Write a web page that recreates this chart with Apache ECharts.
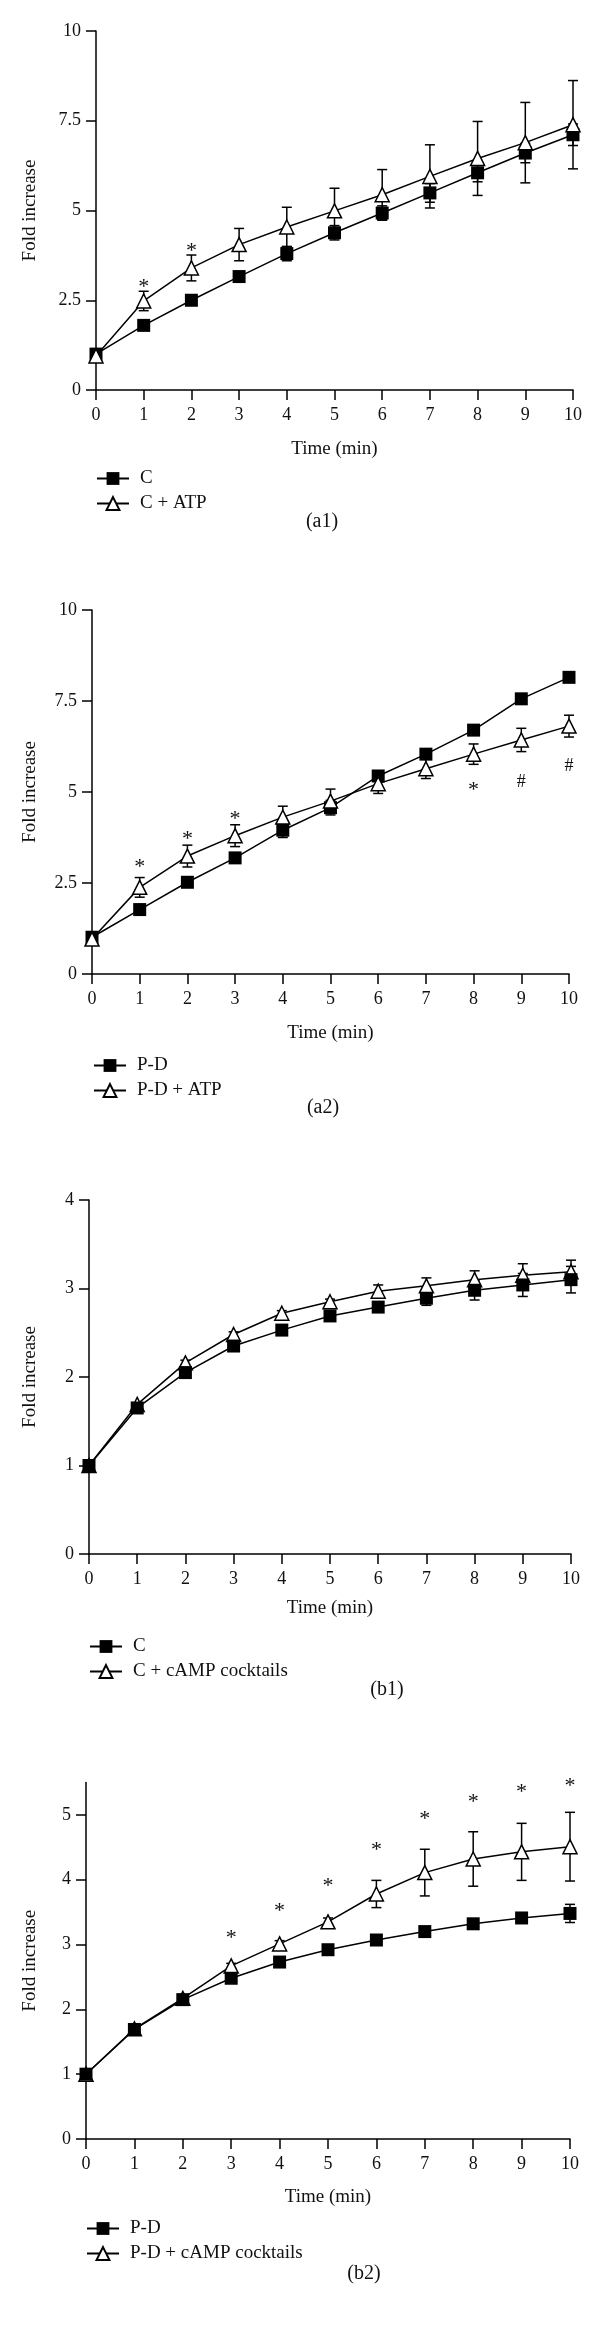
<!DOCTYPE html>
<html>
<head>
<meta charset="utf-8">
<script src="https://cdn.jsdelivr.net/npm/echarts@6/dist/echarts.min.js"></script>
<style>
  html, body { margin: 0; padding: 0; background: #fff; }
  #chart { width: 600px; height: 2333px; }
</style>
</head>
<body>
<div id="chart"></div>
<script>
// ---------- data ----------
const minutes = [0, 1, 2, 3, 4, 5, 6, 7, 8, 9, 10];
const xTicks = [0, 1, 2, 3, 4, 5, 6, 7, 8, 9, 10];
const yTicksA = [0, 2.5, 5, 7.5, 10];
const yTicksB1 = [0, 1, 2, 3, 4];
const yTicksB2 = [0, 1, 2, 3, 4, 5];

// (a1)
const a1C      = [1.0, 1.80, 2.50, 3.16, 3.80, 4.38, 4.93, 5.49, 6.05, 6.60, 7.11];
const a1CErr   = [0, 0.06, 0.06, 0.08, 0.20, 0.20, 0.20, 0.26, 0.25, 0.27, 0.30];
const a1ATP    = [0.95, 2.48, 3.40, 4.05, 4.54, 4.99, 5.44, 5.95, 6.45, 6.89, 7.39];
const a1ATPErr = [0, 0.27, 0.36, 0.45, 0.55, 0.63, 0.70, 0.88, 1.03, 1.12, 1.23];
const a1MarkX = [1, 2];
const a1MarkY = [2.98, 3.97];
const a1MarkText = ['*', '*'];

// (a2)
const a2PD     = [1.01, 1.77, 2.52, 3.19, 3.95, 4.57, 5.44, 6.04, 6.70, 7.56, 8.15];
const a2PDErr  = [0, 0.05, 0.05, 0.06, 0.20, 0.20, 0.10, 0.12, 0.10, 0.06, 0.06];
const a2ATP    = [0.96, 2.38, 3.24, 3.80, 4.31, 4.75, 5.23, 5.64, 6.04, 6.43, 6.81];
const a2ATPErr = [0, 0.27, 0.30, 0.30, 0.30, 0.33, 0.27, 0.27, 0.28, 0.32, 0.30];
const a2MarkX = [1, 2, 3, 8, 9, 10];
const a2MarkY = [3.04, 3.80, 4.37, 5.15, 5.27, 5.72];
const a2MarkText = ['*', '*', '*', '*', '#', '#'];

// (b1)
const b1C       = [1.0, 1.65, 2.05, 2.35, 2.53, 2.69, 2.79, 2.89, 2.98, 3.04, 3.10];
const b1CErr    = [0, 0.02, 0.03, 0.03, 0.03, 0.03, 0.04, 0.08, 0.11, 0.13, 0.15];
const b1CAMP    = [1.0, 1.69, 2.16, 2.48, 2.72, 2.85, 2.97, 3.03, 3.10, 3.15, 3.19];
const b1CAMPErr = [0, 0.02, 0.03, 0.03, 0.03, 0.03, 0.07, 0.09, 0.10, 0.13, 0.13];

// (b2)
const b2PD       = [1.0, 1.69, 2.15, 2.48, 2.73, 2.92, 3.07, 3.20, 3.32, 3.41, 3.48];
const b2PDErr    = [0, 0.02, 0.03, 0.03, 0.03, 0.04, 0.05, 0.07, 0.07, 0.07, 0.14];
const b2CAMP     = [1.0, 1.70, 2.17, 2.67, 3.01, 3.35, 3.78, 4.11, 4.32, 4.43, 4.51];
const b2CAMPErr  = [0, 0.03, 0.03, 0.04, 0.05, 0.06, 0.21, 0.36, 0.42, 0.44, 0.53];
const b2MarkX = [3, 4, 5, 6, 7, 8, 9, 10];
const b2MarkY = [3.16, 3.58, 3.96, 4.52, 4.99, 5.26, 5.41, 5.50];
const b2MarkText = ['*', '*', '*', '*', '*', '*', '*', '*'];

// ---------- helpers ----------
const FONT = 'Liberation Serif';
const INK = '#111';

function pairs(ys) { return minutes.map((m, i) => [m, ys[i]]); }
function triples(ys, es) { return minutes.map((m, i) => [m, ys[i], es[i]]); }

function errRender(params, api) {
  const x = api.value(0), y = api.value(1), e = api.value(2);
  if (!e) return null;
  const hi = api.coord([x, y + e]);
  const lo = api.coord([x, y - e]);
  const w = 5;
  const st = { stroke: '#000', lineWidth: 1.5 };
  return {
    type: 'group',
    children: [
      { type: 'line', shape: { x1: hi[0], y1: hi[1], x2: lo[0], y2: lo[1] }, style: st },
      { type: 'line', shape: { x1: hi[0] - w, y1: hi[1], x2: hi[0] + w, y2: hi[1] }, style: st },
      { type: 'line', shape: { x1: lo[0] - w, y1: lo[1], x2: lo[0] + w, y2: lo[1] }, style: st }
    ]
  };
}

function markRender(params, api) {
  const p = api.coord([api.value(0), api.value(1)]);
  const t = api.value(2);
  const star = t === '*';
  return {
    type: 'text',
    x: p[0],
    y: p[1] + (star ? 4 : 0),
    style: {
      text: t,
      fontFamily: FONT,
      fontSize: star ? 22 : 18,
      fill: INK,
      align: 'center',
      verticalAlign: 'middle'
    }
  };
}

function errSeries(idx, ys, es, z) {
  return {
    type: 'custom', xAxisIndex: idx, yAxisIndex: idx, z: z,
    renderItem: errRender, encode: { x: 0, y: 1 },
    data: triples(ys, es), silent: true
  };
}
function markSeries(idx, xs, ys, ts) {
  return {
    type: 'custom', xAxisIndex: idx, yAxisIndex: idx, z: 5,
    renderItem: markRender, encode: { x: 0, y: 1 },
    dimensions: ['x', 'y', { name: 't', type: 'ordinal' }],
    data: xs.map((x, i) => [x, ys[i], ts[i]]), silent: true
  };
}
function squareSeries(idx, name, ys, z) {
  return {
    type: 'line', name: name, xAxisIndex: idx, yAxisIndex: idx, z: z,
    data: pairs(ys), symbol: 'rect', symbolSize: 13, showAllSymbol: true,
    itemStyle: { color: '#000' },
    lineStyle: { color: '#000', width: 1.5 }
  };
}
function triSeries(idx, name, ys, z) {
  return {
    type: 'line', name: name, xAxisIndex: idx, yAxisIndex: idx, z: z,
    data: pairs(ys), symbol: 'triangle', symbolSize: 14, showAllSymbol: true,
    itemStyle: { color: '#fff', borderColor: '#000', borderWidth: 1.5 },
    lineStyle: { color: '#000', width: 1.5 }
  };
}

function xAxis(idx, nameGap) {
  return {
    type: 'value', gridIndex: idx, min: 0, max: 10, interval: 1,
    name: 'Time (min)', nameLocation: 'middle', nameGap: nameGap,
    nameTextStyle: { fontFamily: FONT, fontSize: 19, color: INK },
    axisLine: { lineStyle: { color: '#000', width: 1.5 } },
    axisTick: { length: 10, lineStyle: { color: '#000', width: 1.5 }, customValues: xTicks },
    axisLabel: { fontFamily: FONT, fontSize: 18, color: INK, margin: 16, customValues: xTicks },
    splitLine: { show: false }
  };
}
function yAxis(idx, max, interval, ticks, nameGap) {
  return {
    type: 'value', gridIndex: idx, min: 0, max: max, interval: interval,
    name: 'Fold increase', nameLocation: 'middle', nameGap: nameGap,
    nameTextStyle: { fontFamily: FONT, fontSize: 19, color: INK },
    axisLine: { lineStyle: { color: '#000', width: 1.5 } },
    axisTick: { length: 10, lineStyle: { color: '#000', width: 1.5 }, customValues: ticks },
    axisLabel: { fontFamily: FONT, fontSize: 18, color: INK, margin: 15, customValues: ticks },
    splitLine: { show: false }
  };
}
function legend(names, left, top) {
  return {
    orient: 'vertical', left: left, top: top, padding: 0,
    itemWidth: 32, itemHeight: 16, itemGap: 6,
    data: names,
    textStyle: { fontFamily: FONT, fontSize: 19, color: INK, padding: [0, 0, 0, 6] }
  };
}
function panelTitle(text, cx, top) {
  return {
    text: text, left: cx, top: top, textAlign: 'center', padding: 0,
    textStyle: { fontFamily: FONT, fontSize: 20, fontWeight: 'normal', color: INK }
  };
}

const option = {
  animation: false,
  backgroundColor: '#fff',
  title: [
    panelTitle('(a1)', 322, 512),
    panelTitle('(a2)', 323, 1098),
    panelTitle('(b1)', 387, 1680),
    panelTitle('(b2)', 364, 2264)
  ],
  legend: [
    legend(['C', 'C + ATP'], 96, 469),
    legend(['P-D', 'P-D + ATP'], 93, 1056),
    legend(['C', 'C + cAMP cocktails'], 89, 1637),
    legend(['P-D', 'P-D + cAMP cocktails'], 86, 2219)
  ],
  grid: [
    { left: 96, top: 31, width: 477, height: 359, containLabel: false, outerBoundsMode: 'none' },
    { left: 92, top: 610, width: 477, height: 364, containLabel: false, outerBoundsMode: 'none' },
    { left: 89, top: 1200, width: 482, height: 354, containLabel: false, outerBoundsMode: 'none' },
    { left: 86, top: 1782.5, width: 484, height: 356.5, containLabel: false, outerBoundsMode: 'none' }
  ],
  xAxis: [xAxis(0, 50), xAxis(1, 50), xAxis(2, 45), xAxis(3, 49)],
  yAxis: [
    yAxis(0, 10, 2.5, yTicksA, 56),
    yAxis(1, 10, 2.5, yTicksA, 52),
    yAxis(2, 4, 1, yTicksB1, 49),
    yAxis(3, 5.5, 0.5, yTicksB2, 46)
  ],
  series: [
    // a1
    errSeries(0, a1C, a1CErr, 1),
    errSeries(0, a1ATP, a1ATPErr, 1),
    squareSeries(0, 'C', a1C, 2),
    triSeries(0, 'C + ATP', a1ATP, 3),
    markSeries(0, a1MarkX, a1MarkY, a1MarkText),
    // a2
    errSeries(1, a2PD, a2PDErr, 1),
    errSeries(1, a2ATP, a2ATPErr, 1),
    squareSeries(1, 'P-D', a2PD, 2),
    triSeries(1, 'P-D + ATP', a2ATP, 3),
    markSeries(1, a2MarkX, a2MarkY, a2MarkText),
    // b1
    errSeries(2, b1C, b1CErr, 1),
    errSeries(2, b1CAMP, b1CAMPErr, 1),
    triSeries(2, 'C + cAMP cocktails', b1CAMP, 2),
    squareSeries(2, 'C', b1C, 3),
    // b2
    errSeries(3, b2PD, b2PDErr, 1),
    errSeries(3, b2CAMP, b2CAMPErr, 1),
    triSeries(3, 'P-D + cAMP cocktails', b2CAMP, 2),
    squareSeries(3, 'P-D', b2PD, 3),
    markSeries(3, b2MarkX, b2MarkY, b2MarkText)
  ]
};

const chart = echarts.init(document.getElementById('chart'), null, { renderer: 'canvas', width: 600, height: 2333 });
chart.setOption(option);
</script>
</body>
</html>
